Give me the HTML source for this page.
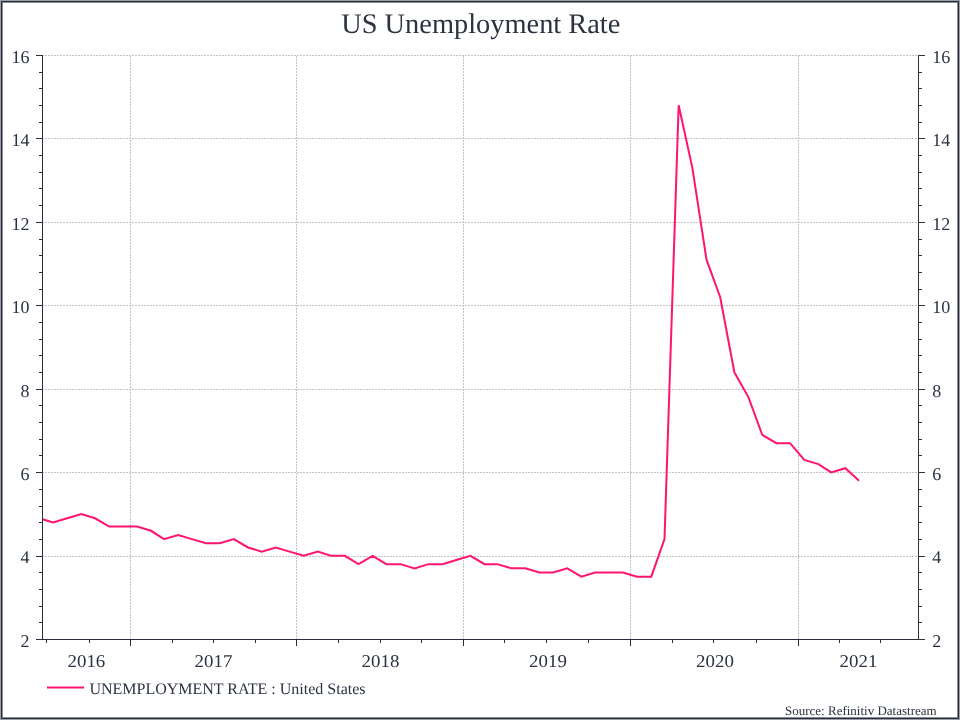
<!DOCTYPE html><html><head><meta charset="utf-8"><style>html,body{margin:0;padding:0;background:#fff;width:960px;height:720px;overflow:hidden}svg{display:block;will-change:transform;text-rendering:geometricPrecision}text{font-family:"Liberation Serif",serif;fill:#2b3340}</style></head><body>
<svg width="960" height="720" viewBox="0 0 960 720">
<rect x="0" y="0" width="960" height="720" fill="#fff"/>
<path d="M42 556.5H918M42 472.5H918M42 389.5H918M42 305.5H918M42 222.5H918M42 138.5H918M42 55.5H918M130.5 56V639M296.5 56V639M463.5 56V639M630.5 56V639M798.5 56V639" stroke="#c4c4c4" stroke-width="1" stroke-dasharray="2 1" fill="none" shape-rendering="crispEdges"/>
<path d="M42.5 55V640M42 639.5H919M36 639.5H42M39 622.5H42M39 606.5H42M39 589.5H42M39 572.5H42M36 556.5H42M39 539.5H42M39 522.5H42M39 506.5H42M39 489.5H42M36 472.5H42M39 455.5H42M39 439.5H42M39 422.5H42M39 405.5H42M36 389.5H42M39 372.5H42M39 355.5H42M39 339.5H42M39 322.5H42M36 305.5H42M39 289.5H42M39 272.5H42M39 255.5H42M39 239.5H42M36 222.5H42M39 205.5H42M39 188.5H42M39 172.5H42M39 155.5H42M36 138.5H42M39 122.5H42M39 105.5H42M39 88.5H42M39 72.5H42M36 55.5H42M46.5 640V643M89.5 640V643M130.5 640V646M172.5 640V643M213.5 640V643M255.5 640V643M296.5 640V646M338.5 640V643M380.5 640V643M421.5 640V643M463.5 640V646M504.5 640V643M546.5 640V643M588.5 640V643M630.5 640V646M672.5 640V643M713.5 640V643M756.5 640V643M798.5 640V646M839.5 640V643M880.5 640V643" stroke="#262e3b" stroke-width="1" fill="none" shape-rendering="crispEdges"/>
<path d="M918.5 55V640M919 639.5H925M919 622.5H922M919 606.5H922M919 589.5H922M919 572.5H922M919 556.5H925M919 539.5H922M919 522.5H922M919 506.5H922M919 489.5H922M919 472.5H925M919 455.5H922M919 439.5H922M919 422.5H922M919 405.5H922M919 389.5H925M919 372.5H922M919 355.5H922M919 339.5H922M919 322.5H922M919 305.5H925M919 289.5H922M919 272.5H922M919 255.5H922M919 239.5H922M919 222.5H925M919 205.5H922M919 188.5H922M919 172.5H922M919 155.5H922M919 138.5H925M919 122.5H922M919 105.5H922M919 88.5H922M919 72.5H922M919 55.5H925" stroke="#333333" stroke-width="1" fill="none" shape-rendering="crispEdges"/>
<text transform="translate(29.5 646.90) scale(1.000 1.000)" font-size="18" text-anchor="end">2</text>
<text transform="translate(932.3 646.90) scale(1.000 1.000)" font-size="18">2</text>
<text transform="translate(29.5 563.47) scale(1.000 1.000)" font-size="18" text-anchor="end">4</text>
<text transform="translate(932.3 563.47) scale(1.000 1.000)" font-size="18">4</text>
<text transform="translate(29.5 480.04) scale(1.000 1.000)" font-size="18" text-anchor="end">6</text>
<text transform="translate(932.3 480.04) scale(1.000 1.000)" font-size="18">6</text>
<text transform="translate(29.5 396.61) scale(1.000 1.000)" font-size="18" text-anchor="end">8</text>
<text transform="translate(932.3 396.61) scale(1.000 1.000)" font-size="18">8</text>
<text transform="translate(29.5 313.19) scale(1.000 1.000)" font-size="18" text-anchor="end">10</text>
<text transform="translate(932.3 313.19) scale(1.000 1.000)" font-size="18">10</text>
<text transform="translate(29.5 229.76) scale(1.000 1.000)" font-size="18" text-anchor="end">12</text>
<text transform="translate(932.3 229.76) scale(1.000 1.000)" font-size="18">12</text>
<text transform="translate(29.5 146.33) scale(1.000 1.000)" font-size="18" text-anchor="end">14</text>
<text transform="translate(932.3 146.33) scale(1.000 1.000)" font-size="18">14</text>
<text transform="translate(29.5 62.90) scale(1.000 1.000)" font-size="18" text-anchor="end">16</text>
<text transform="translate(932.3 62.90) scale(1.000 1.000)" font-size="18">16</text>
<text transform="translate(86.40 666.8) scale(1.050 1.000)" font-size="18" text-anchor="middle">2016</text>
<text transform="translate(213.50 666.8) scale(1.050 1.000)" font-size="18" text-anchor="middle">2017</text>
<text transform="translate(380.50 666.8) scale(1.050 1.000)" font-size="18" text-anchor="middle">2018</text>
<text transform="translate(548.00 666.8) scale(1.050 1.000)" font-size="18" text-anchor="middle">2019</text>
<text transform="translate(715.00 666.8) scale(1.050 1.000)" font-size="18" text-anchor="middle">2020</text>
<text transform="translate(858.50 666.8) scale(1.050 1.000)" font-size="18" text-anchor="middle">2021</text>
<text x="480.8" y="32.6" font-size="28.4" text-anchor="middle">US Unemployment Rate</text>
<defs><clipPath id="pc"><rect x="43" y="0" width="875" height="720"/></clipPath></defs>
<polyline clip-path="url(#pc)" points="39.29,518.28 52.99,522.45 67.15,518.28 81.31,514.11 95.01,518.28 109.17,526.62 122.87,526.62 137.02,526.62 151.18,530.79 163.97,539.14 178.13,534.96 191.83,539.14 205.98,543.31 219.68,543.31 233.84,539.14 248.00,547.48 261.70,551.65 275.86,547.48 289.56,551.65 303.72,555.82 317.87,551.65 330.66,555.82 344.82,555.82 358.52,564.16 372.68,555.82 386.38,564.16 400.53,564.16 414.69,568.34 428.39,564.16 442.55,564.16 456.25,559.99 470.41,555.82 484.56,564.16 497.35,564.16 511.51,568.34 525.21,568.34 539.37,572.51 553.07,572.51 567.23,568.34 581.38,576.68 595.08,572.51 609.24,572.51 622.94,572.51 637.10,576.68 651.26,576.68 664.50,539.14 678.66,105.31 692.36,167.88 706.52,259.65 720.22,297.19 734.37,372.28 748.53,397.31 762.23,434.85 776.39,443.19 790.09,443.19 804.25,459.88 818.41,464.05 831.19,472.39 845.35,468.22 859.05,480.74" fill="none" stroke="#ff1470" stroke-width="2" stroke-linejoin="miter"/>
<path d="M47 687.5H84" stroke="#ff1470" stroke-width="2"/>
<text x="89.4" y="694" font-size="16">UNEMPLOYMENT RATE : United States</text>
<text x="785" y="715" font-size="13">Source: Refinitiv Datastream</text>
<rect x="0.5" y="0.5" width="959" height="719" fill="none" stroke="#9b9fa5" stroke-width="1"/>
<rect x="1.5" y="1.5" width="957" height="717" fill="none" stroke="#262e3b" stroke-width="1"/>
<rect x="2.5" y="2.5" width="955" height="715" fill="none" stroke="#878c93" stroke-width="1"/>
</svg></body></html>
